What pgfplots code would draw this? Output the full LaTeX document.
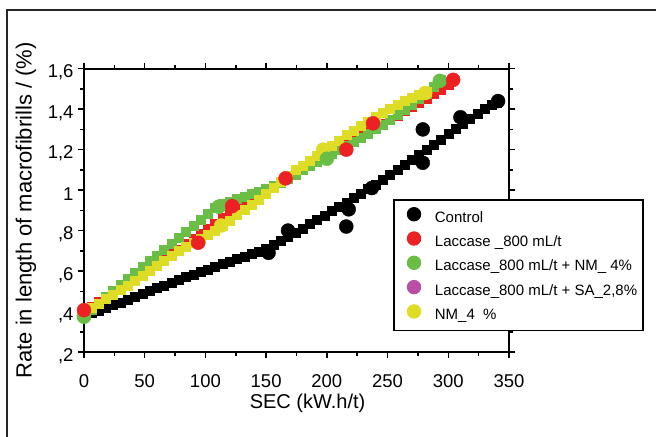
\documentclass[border=0pt]{standalone}
\usepackage{fontspec}
\setmainfont{Liberation Sans}
\usepackage{pgfplots}
\pgfplotsset{compat=1.18}
\definecolor{cred}{RGB}{237,32,36}
\definecolor{cgreen}{RGB}{107,190,69}
\definecolor{cyellow}{RGB}{222,220,36}
\definecolor{cpurple}{RGB}{183,80,165}
\begin{document}
\begin{tikzpicture}
\path[use as bounding box] (0,0) rectangle (656bp,437bp);
\draw[line width=1.2bp, black!85] (7bp,-5bp) -- (7bp,427bp) -- (670bp,427bp);
\begin{axis}[
  at={(84bp,85bp)}, anchor=south west,
  scale only axis, width=425bp, height=283.3bp,
  xmin=0, xmax=350, ymin=0.2, ymax=1.6,
  clip=false,
  axis line style={line width=1.8bp},
  every tick/.style={black, line width=1.5bp},
  tick align=outside,
  major tick length=6bp, minor tick length=4bp,
  xtick={0,50,100,150,200,250,300,350},
  xticklabels={0,50,100,150,200,250,300,350},
  ytick={0.2,0.4,0.6,0.8,1.0,1.2,1.4,1.6},
  yticklabels={{,2},{,4},{,6},{,8},1,{1,2},{1,4},{1,6}},
  minor x tick num=1, minor y tick num=1,
  ticklabel style={font=\fontsize{18.5bp}{20bp}\selectfont},
  xticklabel style={yshift=-13bp},
  yticklabel style={yshift=-4bp, xshift=-1bp},
  xlabel={SEC (kW.h/t)},
  ylabel={Rate in length of macrofibrills / (\%)},
  xlabel style={font=\fontsize{20bp}{22bp}\selectfont, at={(axis description cs:0.526,-0.1977)}, anchor=base},
  ylabel style={font=\fontsize{22bp}{24bp}\selectfont, at={(axis description cs:-0.123,0.5)}, anchor=base},
  legend style={at={(axis description cs:0.7264,0.540)}, anchor=north west,
    draw=black, line width=1.8bp, fill=white,
    font=\fontsize{15bp}{17bp}\selectfont,
    inner xsep=6bp, inner ysep=8bp,
    row sep=7bp,
    nodes={inner sep=0pt, text height=11bp, text depth=3bp},
    /tikz/every odd column/.append style={column sep=13.5bp}},
  legend cell align=left,
  legend image code/.code={\draw[#1] plot coordinates {(6.5bp,4bp)}; \path (-7bp,0bp) (13bp,0bp);},
]
% fitted curves (squares)
\addplot[only marks, mark=square*, mark size=4.5bp, color=black, forget plot] coordinates {
(0,0.380)(6,0.393)(12,0.406)(18,0.419)(24,0.432)(30,0.446)(36,0.460)(42,0.474)(48,0.488)(54,0.502)
(60,0.516)(66,0.530)(72,0.544)(78,0.557)(84,0.570)(90,0.583)(96,0.596)(102,0.609)(108,0.622)(114,0.635)
(120,0.648)(126,0.660)(132,0.672)(138,0.684)(144,0.697)(150,0.712)(156,0.729)(162,0.748)(168,0.768)(174,0.789)
(180,0.810)(186,0.832)(192,0.854)(198,0.876)(204,0.898)(210,0.919)(216,0.940)(222,0.962)(228,0.983)(234,1.005)
(240,1.027)(246,1.050)(252,1.074)(258,1.099)(264,1.124)(270,1.149)(276,1.175)(282,1.200)(288,1.226)(294,1.251)
(300,1.277)(306,1.302)(312,1.328)(318,1.353)(324,1.378)(330,1.402)(336,1.420)(340,1.432)};
\addplot[only marks, mark=square*, mark size=4.5bp, color=cred, forget plot] coordinates {
(0,0.405)(6,0.425)(12,0.448)(18,0.470)(24,0.493)(30,0.516)(36,0.540)(42,0.563)(48,0.587)(54,0.611)
(60,0.636)(66,0.660)(72,0.684)(78,0.708)(84,0.733)(90,0.758)(96,0.784)(102,0.810)(108,0.836)(114,0.862)
(120,0.887)(126,0.910)(132,0.932)(138,0.953)(144,0.973)(150,0.994)(156,1.016)(162,1.039)(168,1.062)(174,1.085)
(180,1.107)(186,1.128)(192,1.148)(198,1.168)(204,1.188)(210,1.208)(216,1.228)(222,1.248)(228,1.268)(234,1.288)
(240,1.308)(246,1.328)(252,1.348)(258,1.369)(264,1.390)(270,1.411)(276,1.432)(282,1.453)(288,1.475)(294,1.498)(300,1.520)};
\addplot[only marks, mark=square*, mark size=4.5bp, color=cgreen, forget plot] coordinates {
(0,0.385)(6,0.410)(12,0.440)(18,0.472)(24,0.503)(30,0.534)(36,0.563)(42,0.593)(48,0.621)(54,0.649)
(60,0.678)(66,0.708)(72,0.737)(78,0.766)(84,0.794)(90,0.822)(96,0.852)(102,0.884)(108,0.912)(114,0.931)
(120,0.945)(126,0.957)(132,0.968)(138,0.980)(144,0.992)(150,1.006)(156,1.021)(162,1.037)(168,1.057)(174,1.078)
(180,1.100)(186,1.121)(192,1.141)(198,1.160)(204,1.180)(210,1.199)(216,1.219)(222,1.238)(228,1.259)(234,1.281)
(240,1.303)(246,1.325)(252,1.347)(258,1.372)(264,1.398)(270,1.424)(276,1.450)(282,1.478)(288,1.510)(294,1.545)};
\addplot[only marks, mark=square*, mark size=4.5bp, color=cyellow, forget plot] coordinates {
(0,0.395)(6,0.418)(12,0.441)(18,0.463)(24,0.485)(30,0.507)(36,0.530)(42,0.552)(48,0.576)(54,0.601)
(60,0.626)(66,0.651)(72,0.675)(78,0.699)(84,0.720)(90,0.740)(96,0.760)(102,0.780)(108,0.801)(114,0.824)
(120,0.850)(126,0.877)(132,0.903)(138,0.929)(144,0.955)(150,0.983)(156,1.013)(162,1.043)(168,1.073)(174,1.100)
(180,1.121)(186,1.144)(192,1.168)(198,1.193)(204,1.220)(210,1.246)(216,1.272)(222,1.295)(228,1.318)(234,1.340)
(240,1.363)(246,1.384)(252,1.404)(258,1.423)(264,1.441)(270,1.458)(276,1.472)(282,1.485)};
% measured points (circles)
\addplot[only marks, mark=*, mark size=7bp, color=black, forget plot] coordinates {
(0,0.38)(152,0.69)(168,0.80)(216,0.82)(218,0.905)(237,1.01)(279,1.135)(279,1.30)(310,1.36)(341,1.44)};
\addplot[only marks, mark=*, mark size=7bp, color=cyellow, forget plot] coordinates {
(0,0.39)(113,0.825)(197,1.20)(281,1.48)};
\addplot[only marks, mark=*, mark size=7bp, color=cgreen, forget plot] coordinates {
(0,0.374)(111,0.918)(200,1.155)(293,1.54)};
\addplot[only marks, mark=*, mark size=7bp, color=cred, forget plot] coordinates {
(0,0.407)(94,0.74)(122,0.921)(166,1.058)(216,1.20)(238,1.33)(304,1.545)};
% legend
\addlegendimage{only marks, mark=*, mark size=6.3bp, color=black}
\addlegendentry{Control}
\addlegendimage{only marks, mark=*, mark size=6.3bp, color=cred}
\addlegendentry{Laccase \_800 mL/t}
\addlegendimage{only marks, mark=*, mark size=6.3bp, color=cgreen}
\addlegendentry{Laccase\_800 mL/t + NM\_ 4\%}
\addlegendimage{only marks, mark=*, mark size=6.3bp, color=cpurple}
\addlegendentry{Laccase\_800 mL/t + SA\_2,8\%}
\addlegendimage{only marks, mark=*, mark size=6.3bp, color=cyellow}
\addlegendentry{NM\_4~~\%}
\end{axis}
\end{tikzpicture}
\end{document}
